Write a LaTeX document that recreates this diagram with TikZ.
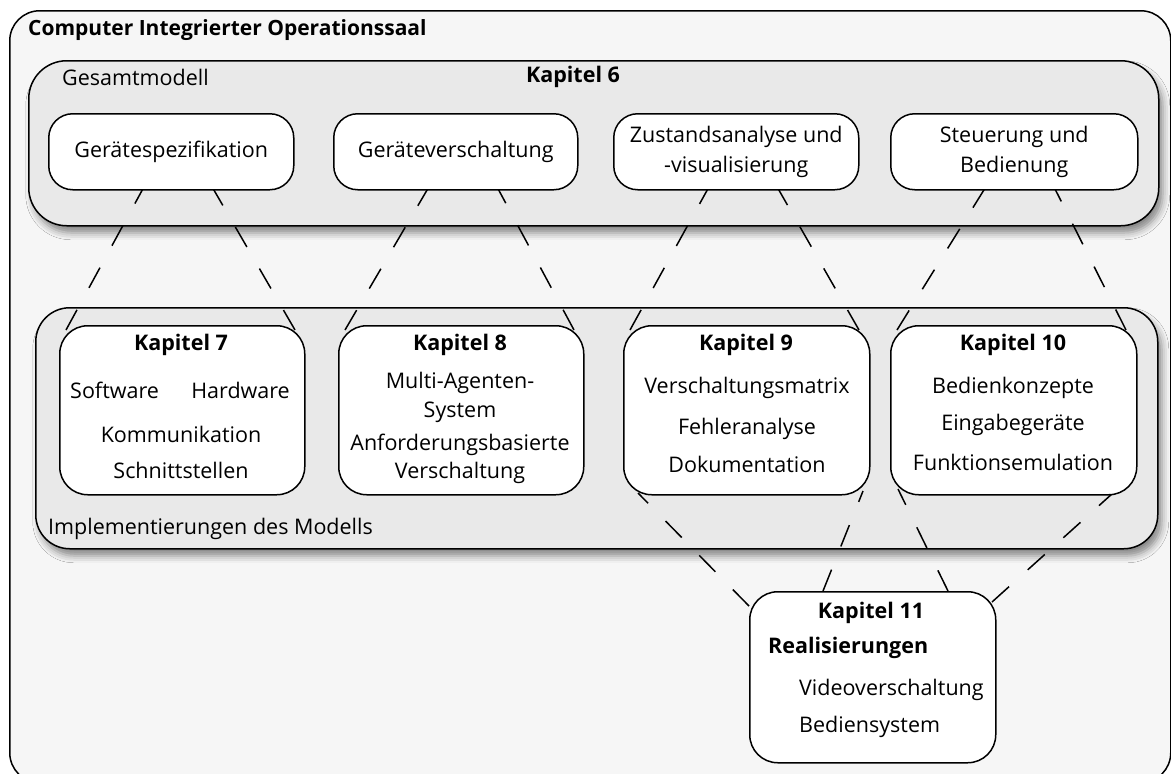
\documentclass[tikz,border=0pt]{standalone}
\usepackage{fontspec}
\setmainfont{Open Sans}
\usetikzlibrary{calc,shadows.blur}

\definecolor{canvasfill}{HTML}{F6F6F6}
\definecolor{groupfill}{HTML}{E9E9E9}

\newcommand{\txt}{\fontsize{21.5}{30}\selectfont}

\begin{document}
\begin{tikzpicture}[x=1pt,y=-1pt,
  frame/.style={draw=black, line width=1.5pt, fill=canvasfill, rounded corners=30pt},
  group/.style={draw=black, line width=1.5pt, fill=groupfill, rounded corners=38pt,
    blur shadow={shadow xshift=4pt, shadow yshift=-7pt, shadow blur radius=7pt, shadow opacity=45}},
  topbox/.style={draw=black, line width=1.5pt, fill=white, rounded corners=24pt,
    minimum height=76pt, inner sep=0pt, anchor=north west, font=\txt, align=center},
  chapbox/.style={draw=black, line width=1.5pt, fill=white, rounded corners=28pt,
    minimum width=245pt, inner sep=0pt, anchor=north west},
  lbl/.style={font=\txt, inner sep=0pt, text height=15pt, text depth=5pt},
  head/.style={font=\txt\bfseries, inner sep=0pt, text height=15pt, text depth=5pt},
  link/.style={draw=black, line width=1.5pt, dash pattern=on 23pt off 25pt}
]
\useasboundingbox (0,0) rectangle (1171,774);

% outer frame and its title
\node[frame, minimum width=1161pt, minimum height=772pt, anchor=north west] (cio) at (9,10) {};
\node[head, font=\fontsize{21}{24}\selectfont\bfseries, anchor=west] (ciotitle) at (28,30) {Computer Integrierter Operationssaal};

% group frames
\node[group, minimum width=1130pt, minimum height=165pt, anchor=north west] (gm) at (28,60) {};
\node[group, rounded corners=34pt, minimum width=1122pt, minimum height=241pt, anchor=north west] (impl) at (35,307) {};

\node[lbl, anchor=west] (gmlabel) at (62,80) {Gesamtmodell};
\node[head] (k6) at (573,77) {Kapitel 6};
\node[lbl, anchor=west] (impllabel) at (48,529) {Implementierungen des Modells};

% box anchors used by the links (boxes are drawn afterwards)
\coordinate (g1) at (48,113);
\coordinate (g2) at (333,113);
\coordinate (g3) at (613,113);
\coordinate (g4) at (890,113);
\coordinate (c7) at (59,325);
\coordinate (c8) at (338,325);
\coordinate (c9) at (623,325);
\coordinate (c10) at (890,325);
\coordinate (c11) at (749,591);

% links from the model parts down to the chapters
\foreach \g/\c in {g1/c7, g2/c8, g3/c9, g4/c10}{
  \draw[link] ($(\c)+(7,5)$) -- ($(\g)+(97,72)$);
  \draw[link] ($(\c)+(236,5)$) -- ($(\g)+(163,72)$);
}
% links from chapters 9 and 10 down to chapter 11
\draw[link] ($(c11)+(0,15)$) -- ($(c9)+(15,168)$);
\draw[link] ($(c11)+(74,0)$) -- ($(c9)+(240,166)$);
\draw[link] ($(c11)+(199,0)$) -- ($(c10)+(8,164)$);
\draw[link] ($(c11)+(243,11)$) -- ($(c10)+(223,168)$);

% model parts
\node[topbox, minimum width=245pt] (spec) at (g1) {Gerätespezifikation};
\node[topbox, minimum width=244pt] (vers) at (g2) {Geräteverschaltung};
\node[topbox, minimum width=245pt] (zust) at (g3) {Zustandsanalyse und\\-visualisierung};
\node[topbox, minimum width=247pt] (steu) at (g4) {Steuerung und\\Bedienung};

% chapter boxes
\node[chapbox, minimum height=169pt] (k7) at (c7) {};
\node[chapbox, minimum height=169pt] (k8) at (c8) {};
\node[chapbox, minimum width=246pt, minimum height=169pt] (k9) at (c9) {};
\node[chapbox, minimum width=246pt, minimum height=169pt] (k10) at (c10) {};
\node[chapbox, minimum width=246pt, minimum height=171pt] (k11) at (c11) {};

% chapter 7
\node[head] (k7h) at (181,345) {Kapitel 7};
\node[lbl, anchor=west] (k7a) at (70,393) {Software};
\node[lbl, anchor=east] (k7b) at (290,393) {Hardware};
\node[lbl] (k7c) at (181,437) {Kommunikation};
\node[lbl] (k7d) at (181,473) {Schnittstellen};

% chapter 8
\node[head] (k8h) at (460,345) {Kapitel 8};
\node[lbl] (k8a) at (460,383) {Multi-Agenten-};
\node[lbl] (k8b) at (460,412) {System};
\node[lbl] (k8c) at (460,445) {Anforderungsbasierte};
\node[lbl] (k8d) at (460,473) {Verschaltung};

% chapter 9
\node[head] (k9h) at (746,345) {Kapitel 9};
\node[lbl] (k9a) at (747,388) {Verschaltungsmatrix};
\node[lbl] (k9b) at (747,429) {Fehleranalyse};
\node[lbl] (k9c) at (747,467) {Dokumentation};

% chapter 10
\node[head] (k10h) at (1013,345) {Kapitel 10};
\node[lbl] (k10a) at (1013,388) {Bedienkonzepte};
\node[lbl] (k10b) at (1013,425) {Eingabegeräte};
\node[lbl] (k10c) at (1013,465) {Funktionsemulation};

% chapter 11
\node[head] (k11h) at (871,613) {Kapitel 11};
\node[head, anchor=west] (k11a) at (768,648) {Realisierungen};
\node[lbl, anchor=west] (k11b) at (799,690) {Videoverschaltung};
\node[lbl, anchor=west] (k11c) at (799,727) {Bediensystem};
\end{tikzpicture}
\end{document}
